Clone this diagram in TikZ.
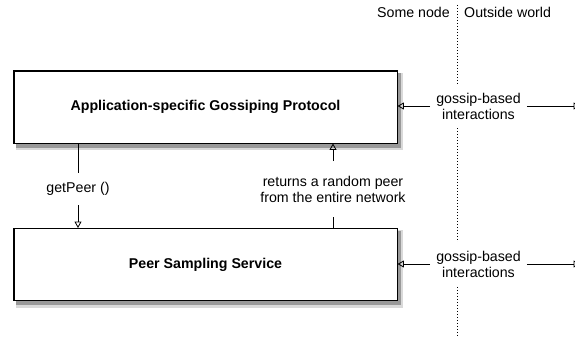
\documentclass[tikz,border=0pt]{standalone}
\usepackage{fontspec}
\setmainfont{Liberation Sans}
\usetikzlibrary{arrows.meta,positioning}

\begin{document}
\begin{tikzpicture}[x=1pt,y=1pt,
        every node/.style={font=\fontsize{14.2}{16}\selectfont},
        caja/.style={draw, line width=0.9pt, fill=white, minimum width=383pt, minimum height=72pt,
            font=\fontsize{14.2}{16}\selectfont\bfseries},
        etiq/.style={align=center, fill=white, inner xsep=6pt, inner ysep=8.5pt},
        flecha/.style={-{Triangle[open,length=6.5pt,width=7pt]}, line width=0.8pt}]
    \useasboundingbox (0,0) rectangle (575,337);

    % Cajas
    \node[caja] (app) at (205.5,230) {Application-specific Gossiping Protocol};
    \node[caja] (pss) at (205.5,72.5) {Peer Sampling Service};

    % Sombras
    \foreach \c in {app,pss} {
        \fill[black!15] ([xshift=2pt]\c.south west) rectangle ([xshift=6pt,yshift=-7pt]\c.south east);
        \fill[black!15] ([yshift=-2pt]\c.north east) rectangle ([xshift=6pt,yshift=-7pt]\c.south east);
        \fill[black!40] ([xshift=2.5pt]\c.south west) rectangle ([xshift=4pt,yshift=-4.5pt]\c.south east);
        \fill[black!40] ([yshift=-2.5pt]\c.north east) rectangle ([xshift=4pt,yshift=-4.5pt]\c.south east);
        \draw[line width=0.9pt] (\c.south west) rectangle (\c.north east);
    }

    % Frontera
    \draw[dotted, line width=1pt] (457,332) -- (457,0);
    \node[anchor=east, inner sep=0pt] (nodo) at (450,325) {Some node};
    \node[anchor=west, inner sep=0pt] (mundo) at (464,325) {Outside world};

    % Interacciones
    \node[etiq] (g1) at (478.5,231) {gossip-based\\interactions};
    \node[etiq] (g2) at (478.5,73) {gossip-based\\interactions};
    \coordinate (f1) at (580,231);
    \coordinate (f2) at (580,73);
    \draw[flecha] (g1.west) -- (g1.west -| app.east);
    \draw[flecha] (g1.east) -- (f1);
    \draw[flecha] (g2.west) -- (g2.west -| pss.east);
    \draw[flecha] (g2.east) -- (f2);

    % Llamadas
    \node[inner ysep=9.5pt] (gp) at (78,148) {getPeer ()};
    \node[align=center, inner ysep=14.5pt] (rp) at (333,148) {returns a random peer\\from the entire network};
    \draw[line width=0.8pt] (gp |- app.south) -- (gp);
    \draw[flecha] (gp) -- (gp |- pss.north);
    \draw[line width=0.8pt] (rp |- pss.north) -- (rp);
    \draw[flecha] (rp) -- (rp |- app.south);
\end{tikzpicture}
\end{document}
